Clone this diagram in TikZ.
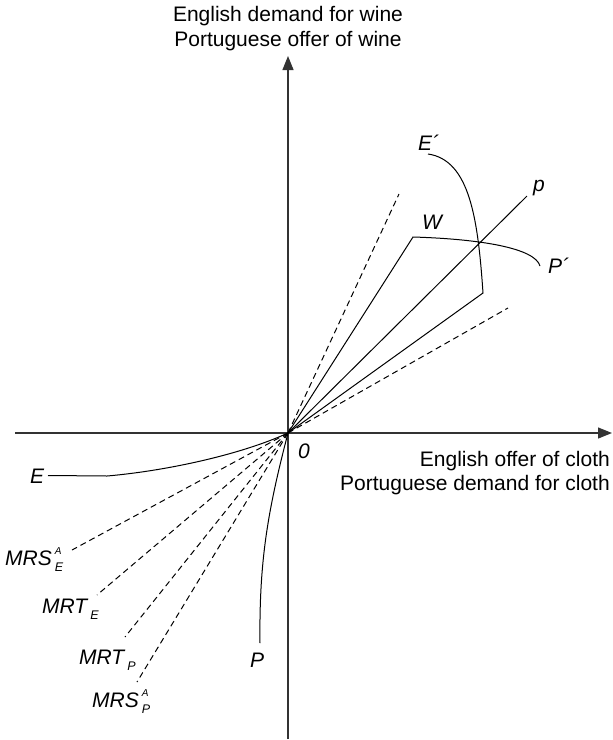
\documentclass[tikz,border=0pt]{standalone}
\usepackage{fontspec}
\setmainfont{Liberation Sans}
\usetikzlibrary{arrows.meta}
\newcommand\lsup[1]{\raisebox{10.5pt}{\fontsize{10}{10}\selectfont #1}}
\newcommand\lsub[1]{\raisebox{-6.5pt}{\fontsize{12.5}{12.5}\selectfont #1}}
\begin{document}
\begin{tikzpicture}[x=1pt,y=-1pt,
  axisline/.style={line width=1.2pt, draw=black!80, -{Triangle[length=14pt,width=11pt]}},
  curveline/.style={line width=1pt},
  ratioline/.style={line width=1pt, dash pattern=on 6pt off 4pt},
  lbl/.style={font=\fontsize{21}{25}\selectfont, inner sep=0pt},
  ilbl/.style={font=\fontsize{21}{25}\selectfont\itshape, inner sep=0pt, anchor=base west}]
\useasboundingbox (0,0) rectangle (613,740);
% origin and end points
\coordinate (O) at (288,433);
\coordinate (xs) at (15,433);
\coordinate (xe) at (612,433);
\coordinate (ys) at (288,739);
\coordinate (ye) at (288,56);
% axes
\draw[axisline] (xs) -- (xe);
\draw[axisline] (ys) -- (ye);
% axis labels
\node[lbl, anchor=base] (yl1) at (288,21.5) {English demand for wine};
\node[lbl, anchor=base] (yl2) at (288,46) {Portuguese offer of wine};
\node[lbl, anchor=base east] (xl1) at (610,466.5) {English offer of cloth};
\node[lbl, anchor=base east] (xl2) at (610,490.5) {Portuguese demand for cloth};
% dashed ratio lines
\coordinate (mrsea) at (72,550);
\coordinate (mrte) at (97,595);
\coordinate (mrtp) at (125,637);
\coordinate (mrspa) at (137,682);
\coordinate (dsteep) at (399,194);
\coordinate (dflat) at (508,308);
\draw[ratioline] (O) -- (mrsea);
\draw[ratioline] (O) -- (mrte);
\draw[ratioline] (O) -- (mrtp);
\draw[ratioline] (O) -- (mrspa);
\draw[ratioline] (O) -- (dsteep);
\draw[ratioline] (O) -- (dflat);
% offer curves in third quadrant
\coordinate (Es) at (48,475.5);
\coordinate (Ek) at (107,476);
\draw[curveline] (Es) -- (Ek) .. controls (165,471) and (240,455) .. (O);
\coordinate (Pe) at (260,643);
\draw[curveline] (O) .. controls (268,510) and (259,560) .. (Pe);
% first quadrant
\coordinate (Wk) at (413,237);
\coordinate (Lk) at (483,293);
\coordinate (Pp) at (540,266);
\coordinate (Ep) at (428,154);
\coordinate (pe) at (527,196);
\draw[curveline] (O) -- (Wk) .. controls (480,239) and (535,248) .. (Pp);
\draw[curveline] (O) -- (Lk) .. controls (478,220) and (470,160) .. (Ep);
\draw[curveline] (O) -- (pe);
% labels
\node[ilbl] (lE) at (30,483) {E};
\node[ilbl] (lP) at (250,667) {P};
\node[ilbl] (l0) at (298,458) {0};
\node[ilbl] (lEp) at (418,150) {E´};
\node[ilbl] (lW) at (422,229) {W};
\node[ilbl] (lp) at (533,191) {p};
\node[ilbl] (lPp) at (548,273) {P´};
\node[ilbl] (lmrsea) at (5,565) {MRS\kern3pt\rlap{\lsup{A}}\lsub{E}};
\node[ilbl] (lmrte) at (42,613) {MRT\kern3pt\lsub{E}};
\node[ilbl] (lmrtp) at (79,664) {MRT\kern3pt\lsub{P}};
\node[ilbl] (lmrspa) at (92,707) {MRS\kern3pt\rlap{\lsup{A}}\lsub{P}};
\end{tikzpicture}
\end{document}
